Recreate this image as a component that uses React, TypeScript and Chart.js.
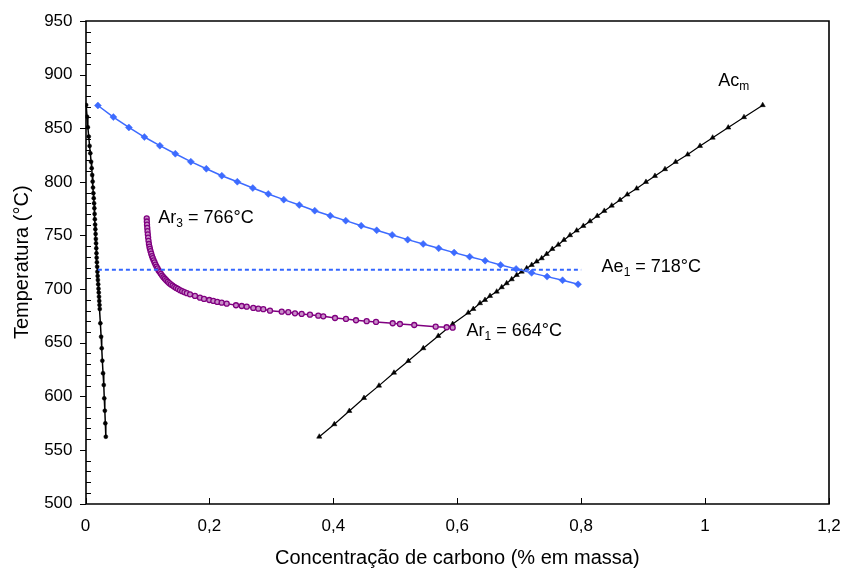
import React, { useEffect, useRef } from "react";
import { Chart, registerables } from "chart.js";

Chart.register(...registerables);

// ---- Data ----
// Curve near x = 0 (black circles)
const nearZeroX = [0.001, 0.0025, 0.0038, 0.0052, 0.0066, 0.0078, 0.009, 0.01, 0.0108, 0.0115, 0.0121, 0.0127, 0.0133, 0.0138, 0.0143, 0.0147, 0.0151, 0.0155, 0.0159, 0.0163, 0.0167, 0.017, 0.0174, 0.0177, 0.018, 0.0184, 0.0188, 0.0192, 0.0196, 0.02, 0.0205, 0.021, 0.0214, 0.0218, 0.0222, 0.0226, 0.023, 0.024, 0.0252, 0.0262, 0.0272, 0.0283, 0.0295, 0.0303, 0.0312, 0.032, 0.0328];
const nearZeroT = [871.7, 860.8, 850.9, 842.2, 833.5, 826.7, 818.8, 812.7, 806.4, 800.2, 794.6, 789.4, 784.7, 780.0, 775.4, 770.1, 765.1, 760.1, 755.8, 751.4, 746.8, 742.7, 738.1, 733.4, 729.3, 725.0, 720.9, 716.2, 712.2, 708.5, 704.5, 700.4, 696.7, 692.9, 688.9, 685.2, 681.4, 668.1, 655.6, 644.8, 633.2, 621.5, 610.5, 598.1, 586.6, 574.8, 562.3];

// Blue diamonds
const blueX = [0.02, 0.045, 0.07, 0.095, 0.12, 0.145, 0.17, 0.195, 0.22, 0.245, 0.27, 0.295, 0.32, 0.345, 0.37, 0.395, 0.42, 0.445, 0.47, 0.495, 0.52, 0.545, 0.57, 0.595, 0.62, 0.645, 0.67, 0.695, 0.72, 0.745, 0.77, 0.795];
const blueT = [871.2, 860.4, 850.7, 841.8, 833.7, 826.2, 818.8, 812.2, 805.7, 800.1, 794.2, 788.7, 783.4, 778.4, 773.1, 768.4, 763.8, 759.1, 754.8, 750.5, 746.1, 742.1, 738.0, 734.0, 730.2, 726.5, 722.5, 718.8, 715.1, 711.6, 708.2, 704.4];

// Purple circles (Ar3 -> Ar1)
const purpleX = [0.0988, 0.099, 0.0993, 0.0997, 0.1001, 0.1006, 0.1011, 0.1017, 0.1024, 0.1032, 0.104, 0.105, 0.1061, 0.1073, 0.1086, 0.11, 0.1115, 0.113, 0.1146, 0.1163, 0.118, 0.1198, 0.1217, 0.1237, 0.1258, 0.128, 0.1303, 0.1327, 0.1352, 0.1378, 0.1405, 0.1433, 0.1462, 0.1492, 0.1525, 0.156, 0.1597, 0.1636, 0.1687, 0.1767, 0.1848, 0.1913, 0.1998, 0.2063, 0.2127, 0.2198, 0.2279, 0.2429, 0.2521, 0.2602, 0.2708, 0.2789, 0.287, 0.2978, 0.3167, 0.3273, 0.3381, 0.3489, 0.3623, 0.3757, 0.3838, 0.4027, 0.4204, 0.4366, 0.4538, 0.4689, 0.4958, 0.5075, 0.5306, 0.5652, 0.5829, 0.5926];
const purpleT = [766.0, 763.0, 760.0, 757.0, 754.0, 751.0, 748.0, 745.0, 742.0, 739.5, 737.5, 735.3, 733.0, 730.8, 728.8, 726.8, 724.8, 722.8, 721.0, 719.2, 717.4, 715.8, 714.2, 712.6, 711.0, 709.6, 708.2, 706.8, 705.5, 704.3, 703.2, 702.1, 701.1, 700.1, 699.0, 698.0, 697.1, 696.2, 695.1, 693.6, 692.0, 690.8, 689.8, 688.9, 688.0, 687.3, 686.4, 684.9, 684.2, 683.6, 682.4, 681.7, 681.2, 679.8, 678.9, 678.4, 677.4, 676.8, 676.1, 675.2, 674.6, 673.0, 672.1, 670.9, 670.0, 669.3, 668.1, 667.4, 666.5, 664.9, 664.4, 664.0];

// Acm (black triangles)
const acmX = [0.3773, 0.4016, 0.4258, 0.4495, 0.4737, 0.4979, 0.521, 0.5452, 0.5694, 0.5926, 0.6178, 0.6259, 0.6367, 0.6448, 0.6529, 0.6637, 0.6718, 0.6798, 0.6879, 0.696, 0.704, 0.7121, 0.7202, 0.7283, 0.7363, 0.7444, 0.7534, 0.7631, 0.7723, 0.782, 0.7928, 0.8035, 0.8143, 0.826, 0.8373, 0.8493, 0.8627, 0.8745, 0.8896, 0.9046, 0.9191, 0.9353, 0.9525, 0.9719, 0.9918, 1.0122, 1.0374, 1.0628, 1.093];
const acmT = [562.3, 573.9, 586.3, 598.4, 609.9, 622.0, 632.9, 644.8, 656.3, 667.4, 677.9, 681.4, 686.8, 689.8, 693.6, 697.6, 701.7, 705.4, 709.1, 713.1, 716.2, 719.4, 722.5, 725.6, 728.7, 732.7, 737.4, 741.4, 745.8, 750.2, 754.5, 758.9, 763.2, 768.2, 772.9, 777.8, 783.1, 788.1, 793.7, 799.9, 805.5, 811.8, 818.6, 825.4, 833.5, 841.2, 850.6, 860.3, 871.5];

// Ae1 horizontal dotted line
const ae1X = [0.02, 0.8];
const ae1T = [718, 718];

// Axes
const xTickLabels = ["0", "0,2", "0,4", "0,6", "0,8", "1", "1,2"];
const yTickLabels = ["500", "550", "600", "650", "700", "750", "800", "850", "900", "950"];
const xTitle = "Concentração de carbono (% em massa)";
const yTitle = "Temperatura (°C)";

// Annotations: [main, subscript, rest, x, y]
const annotations: [string, string, string, number, number][] = [
  ["Ar", "3", " = 766°C", 0.1175, 761.8],
  ["Ae", "1", " = 718°C", 0.833, 716.1],
  ["Ar", "1", " = 664°C", 0.615, 656.2],
  ["Ac", "m", "", 1.0213, 889.4],
];

const FONT = "'Liberation Sans', Arial, sans-serif";

function pts(xs: number[], ys: number[]) {
  return xs.map((x, i) => ({ x, y: ys[i] }));
}

const framePlugin = {
  id: "framePlugin",
  afterDatasetsDraw(chart: any) {
    const { ctx, chartArea } = chart;
    const xs = chart.scales.x;
    const ys = chart.scales.y;
    ctx.save();
    ctx.setLineDash([]);
    ctx.globalAlpha = 1;
    ctx.globalCompositeOperation = "source-over";
    ctx.fillStyle = "#000000";
    ctx.strokeStyle = "#000000";
    const L = Math.round(chartArea.left);
    const R = Math.round(chartArea.right);
    const T = Math.round(chartArea.top);
    const B = Math.round(chartArea.bottom);
    // frame
    ctx.lineWidth = 1.6;
    ctx.beginPath();
    ctx.rect(L, T, R - L, B - T);
    ctx.stroke();
    // y major ticks (outside), minor ticks (inside)
    for (let v = 500; v <= 950; v += 10) {
      const p = Math.round(ys.getPixelForValue(v));
      if ((v - 500) % 50 === 0) {
        ctx.fillRect(L - 6, p, 6, 1);
      } else {
        ctx.fillRect(L, p, 5, 1);
      }
    }
    for (let i = 0; i < xTickLabels.length; i++) {
      const p = Math.round(xs.getPixelForValue(i * 0.2));
      ctx.fillRect(p, B - 6, 1, 6);
    }
    ctx.restore();
  },
  afterDraw(chart: any) {
    const { ctx } = chart;
    const xs = chart.scales.x;
    const ys = chart.scales.y;
    ctx.save();
    ctx.fillStyle = "#000";
    ctx.textBaseline = "alphabetic";
    ctx.textAlign = "left";
    for (const [main, sub, rest, ax, ay] of annotations) {
      let x = xs.getPixelForValue(ax);
      const y = ys.getPixelForValue(ay);
      ctx.font = `18px ${FONT}`;
      ctx.fillText(main, x, y);
      x += ctx.measureText(main).width;
      ctx.font = `12px ${FONT}`;
      ctx.fillText(sub, x, y + 4);
      x += ctx.measureText(sub).width;
      ctx.font = `18px ${FONT}`;
      if (rest) ctx.fillText(rest, x, y);
    }
    ctx.restore();
  },
};

export default function App() {
  const ref = useRef<HTMLCanvasElement>(null);
  useEffect(() => {
    if (!ref.current) return;
    const chart = new Chart(ref.current, {
      type: "scatter",
      data: {
        datasets: [
          {
            data: pts(ae1X, ae1T),
            showLine: true,
            borderColor: "#3366ff",
            borderWidth: 2,
            borderDash: [4, 3],
            pointRadius: 0,
          },
          {
            data: pts(nearZeroX, nearZeroT),
            showLine: true,
            borderColor: "#000",
            borderWidth: 1.5,
            pointStyle: "circle",
            pointRadius: 2,
            pointBackgroundColor: "#000",
            pointBorderColor: "#000",
            pointBorderWidth: 0.5,
          },
          {
            data: pts(blueX, blueT),
            showLine: true,
            borderColor: "#3d6bff",
            borderWidth: 1.5,
            pointStyle: "rectRot",
            pointRadius: 3.5,
            pointBackgroundColor: "#3d6bff",
            pointBorderColor: "#3d6bff",
            pointBorderWidth: 0.5,
          },
          {
            data: pts(purpleX, purpleT),
            showLine: true,
            borderColor: "#800080",
            borderWidth: 1.5,
            pointStyle: "circle",
            pointRadius: 2.5,
            pointBackgroundColor: "#c98fc9",
            pointBorderColor: "#800080",
            pointBorderWidth: 1.3,
          },
          {
            data: pts(acmX, acmT),
            showLine: true,
            borderColor: "#000",
            borderWidth: 1.2,
            pointStyle: "triangle",
            pointRadius: 3,
            pointBackgroundColor: "#000",
            pointBorderColor: "#000",
            pointBorderWidth: 0.5,
          },
        ],
      },
      options: {
        animation: false,
        responsive: false,
        devicePixelRatio: 1,
        layout: { padding: { left: 0, right: 16, top: 21, bottom: 0 } },
        plugins: { legend: { display: false }, tooltip: { enabled: false } },
        elements: { line: { tension: 0 } },
        scales: {
          x: {
            type: "linear",
            min: 0,
            max: 1.2,
            afterFit: (s: any) => {
              s.height = 68.5;
              s.paddingLeft = 0;
              s.paddingRight = 0;
            },
            afterBuildTicks: (s: any) => {
              s.ticks = xTickLabels.map((_, i) => ({ value: i * 0.2 }));
            },
            grid: { display: false },
            border: { display: false },
            ticks: {
              padding: 5,
              color: "#000",
              font: { family: FONT, size: 17 },
              maxRotation: 0,
              callback: (_v: any, i: number) => xTickLabels[i],
            },
            title: {
              display: true,
              text: xTitle,
              color: "#000",
              font: { family: FONT, size: 20 },
              padding: { top: 0, bottom: 2 },
            },
          },
          y: {
            type: "linear",
            min: 500,
            max: 950,
            afterFit: (s: any) => {
              s.width = 85.5;
              s.paddingTop = 0;
              s.paddingBottom = 0;
            },
            afterBuildTicks: (s: any) => {
              s.ticks = yTickLabels.map((l) => ({ value: Number(l) }));
            },
            grid: { display: false, drawTicks: false },
            border: { display: false },
            ticks: {
              padding: 13,
              color: "#000",
              font: { family: FONT, size: 17 },
              callback: (_v: any, i: number) => yTickLabels[i],
            },
            title: {
              display: true,
              text: yTitle,
              color: "#000",
              font: { family: FONT, size: 20 },
              padding: { top: 10, bottom: 0 },
            },
          },
        },
      },
      plugins: [framePlugin],
    } as any);
    return () => chart.destroy();
  }, []);
  return (
    <div style={{ position: "fixed", left: 0, top: 0, width: 845, height: 572, background: "#fff" }}>
      <canvas ref={ref} width={845} height={572} style={{ width: 845, height: 572 }} />
    </div>
  );
}
